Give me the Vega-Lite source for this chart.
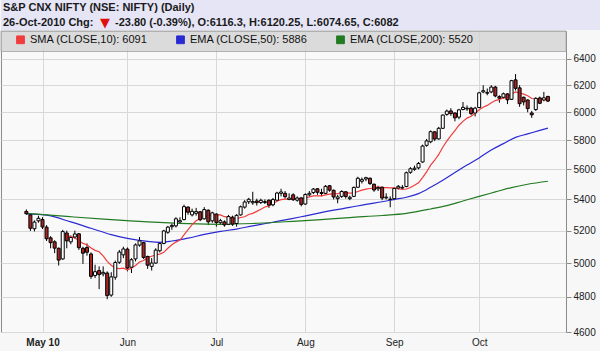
{
"$schema": "https://vega.github.io/schema/vega-lite/v6.json",
"background": "#f7f7f7",
"padding": 0,
"spacing": 0,
"config": {"font": "Liberation Sans", "axis": {"labelFont": "Liberation Sans", "labelFontSize": 10, "labelColor": "#222222", "gridColor": "#d8d8d8", "domainColor": "#8c8c8c", "tickColor": "#8c8c8c"}},
"datasets": {
"candles": [
{"i":0,"o":5322,"h":5335,"l":5300,"c":5308},{"i":1,"o":5300,"h":5310,"l":5198,"c":5215},{"i":2,"o":5212,"h":5265,"l":5195,"c":5254},{"i":3,"o":5262,"h":5295,"l":5250,"c":5278},
{"i":4,"o":5270,"h":5285,"l":5210,"c":5223},{"i":5,"o":5222,"h":5235,"l":5135,"c":5149},{"i":6,"o":5155,"h":5165,"l":5090,"c":5125},{"i":7,"o":5130,"h":5140,"l":5060,"c":5091},{"i":8,"o":5090,"h":5095,"l":4985,"c":5018},{"i":9,"o":5025,"h":5205,"l":5020,"c":5194},{"i":10,"o":5185,"h":5200,"l":5090,"c":5136},{"i":11,"o":5130,"h":5170,"l":5115,"c":5157},{"i":12,"o":5160,"h":5200,"l":5150,"c":5179},{"i":13,"o":5180,"h":5185,"l":5080,"c":5094},{"i":14,"o":5090,"h":5100,"l":4995,"c":5060},{"i":15,"o":5095,"h":5120,"l":5045,"c":5066},{"i":16,"o":5055,"h":5065,"l":4905,"c":4920},{"i":17,"o":4925,"h":4990,"l":4910,"c":4948},{"i":18,"o":4955,"h":4980,"l":4845,"c":4931},{"i":19,"o":4935,"h":4980,"l":4920,"c":4944},{"i":20,"o":4940,"h":4950,"l":4786,"c":4807},{"i":21,"o":4810,"h":4945,"l":4800,"c":4917},{"i":22,"o":4915,"h":5015,"l":4900,"c":5003},{"i":23,"o":5005,"h":5080,"l":4995,"c":5067},{"i":24,"o":5050,"h":5100,"l":5030,"c":5086},
{"i":25,"o":5085,"h":5095,"l":4950,"c":4970},{"i":26,"o":4975,"h":5030,"l":4940,"c":5020},{"i":27,"o":5025,"h":5120,"l":5010,"c":5111},{"i":28,"o":5110,"h":5160,"l":5100,"c":5136},{"i":29,"o":5125,"h":5130,"l":5025,"c":5034},{"i":30,"o":5040,"h":5045,"l":4965,"c":4987},{"i":31,"o":4980,"h":5030,"l":4955,"c":5000},{"i":32,"o":5000,"h":5090,"l":4995,"c":5079},{"i":33,"o":5075,"h":5130,"l":5065,"c":5119},{"i":34,"o":5120,"h":5205,"l":5115,"c":5198},{"i":35,"o":5190,"h":5230,"l":5180,"c":5222},{"i":36,"o":5225,"h":5245,"l":5205,"c":5233},{"i":37,"o":5230,"h":5285,"l":5220,"c":5275},{"i":38,"o":5255,"h":5285,"l":5245,"c":5263},{"i":39,"o":5270,"h":5366,"l":5265,"c":5353},{"i":40,"o":5350,"h":5355,"l":5300,"c":5317},{"i":41,"o":5300,"h":5340,"l":5290,"c":5323},{"i":42,"o":5310,"h":5345,"l":5295,"c":5321},{"i":43,"o":5320,"h":5325,"l":5260,"c":5269},{"i":44,"o":5275,"h":5350,"l":5270,"c":5334},{"i":45,"o":5330,"h":5335,"l":5235,"c":5256},{"i":46,"o":5262,"h":5320,"l":5250,"c":5313},
{"i":47,"o":5305,"h":5310,"l":5225,"c":5251},{"i":48,"o":5250,"h":5275,"l":5235,"c":5263},{"i":49,"o":5255,"h":5265,"l":5225,"c":5236},{"i":50,"o":5240,"h":5300,"l":5235,"c":5289},{"i":51,"o":5285,"h":5295,"l":5230,"c":5241},{"i":52,"o":5245,"h":5305,"l":5225,"c":5297},{"i":53,"o":5300,"h":5360,"l":5295,"c":5352},{"i":54,"o":5350,"h":5395,"l":5340,"c":5383},{"i":55,"o":5385,"h":5410,"l":5370,"c":5401},{"i":56,"o":5378,"h":5450,"l":5365,"c":5386},{"i":57,"o":5390,"h":5405,"l":5360,"c":5379},{"i":58,"o":5380,"h":5405,"l":5370,"c":5394},{"i":59,"o":5380,"h":5400,"l":5370,"c":5386},{"i":60,"o":5395,"h":5400,"l":5345,"c":5363},{"i":61,"o":5365,"h":5410,"l":5355,"c":5399},{"i":62,"o":5395,"h":5450,"l":5390,"c":5442},{"i":63,"o":5440,"h":5470,"l":5420,"c":5449},{"i":64,"o":5440,"h":5455,"l":5405,"c":5418},{"i":65,"o":5400,"h":5440,"l":5395,"c":5409},{"i":66,"o":5430,"h":5440,"l":5390,"c":5398},{"i":67,"o":5395,"h":5420,"l":5385,"c":5409},{"i":68,"o":5410,"h":5415,"l":5355,"c":5368},
{"i":69,"o":5370,"h":5440,"l":5365,"c":5432},{"i":70,"o":5430,"h":5455,"l":5420,"c":5440},{"i":71,"o":5445,"h":5475,"l":5435,"c":5468},{"i":72,"o":5470,"h":5475,"l":5430,"c":5447},{"i":73,"o":5445,"h":5470,"l":5420,"c":5439},{"i":74,"o":5440,"h":5495,"l":5435,"c":5486},{"i":75,"o":5490,"h":5495,"l":5450,"c":5461},{"i":76,"o":5460,"h":5465,"l":5400,"c":5416},{"i":77,"o":5405,"h":5430,"l":5375,"c":5416},{"i":78,"o":5420,"h":5460,"l":5410,"c":5452},{"i":79,"o":5450,"h":5455,"l":5405,"c":5419},{"i":80,"o":5405,"h":5425,"l":5395,"c":5414},{"i":81,"o":5420,"h":5485,"l":5415,"c":5479},{"i":82,"o":5480,"h":5550,"l":5475,"c":5540},{"i":83,"o":5520,"h":5545,"l":5505,"c":5531},{"i":84,"o":5535,"h":5550,"l":5520,"c":5544},{"i":85,"o":5540,"h":5545,"l":5495,"c":5505},{"i":86,"o":5500,"h":5505,"l":5450,"c":5462},{"i":87,"o":5470,"h":5490,"l":5455,"c":5478},{"i":88,"o":5480,"h":5485,"l":5395,"c":5409},{"i":89,"o":5410,"h":5440,"l":5400,"c":5415},{"i":90,"o":5400,"h":5420,"l":5349,"c":5402},
{"i":91,"o":5405,"h":5480,"l":5395,"c":5472},{"i":92,"o":5475,"h":5495,"l":5465,"c":5486},{"i":93,"o":5475,"h":5495,"l":5470,"c":5479},{"i":94,"o":5485,"h":5585,"l":5480,"c":5577},{"i":95,"o":5580,"h":5615,"l":5570,"c":5604},{"i":96,"o":5600,"h":5625,"l":5590,"c":5608},{"i":97,"o":5610,"h":5650,"l":5600,"c":5640},{"i":98,"o":5650,"h":5770,"l":5645,"c":5760},{"i":99,"o":5765,"h":5810,"l":5755,"c":5796},{"i":100,"o":5790,"h":5870,"l":5780,"c":5861},{"i":101,"o":5860,"h":5865,"l":5795,"c":5809},{"i":102,"o":5810,"h":5895,"l":5805,"c":5885},{"i":103,"o":5885,"h":5985,"l":5880,"c":5980},{"i":104,"o":5985,"h":6020,"l":5975,"c":6009},{"i":105,"o":6010,"h":6030,"l":5975,"c":5991},{"i":106,"o":5995,"h":6000,"l":5935,"c":5960},{"i":107,"o":5965,"h":6025,"l":5950,"c":6018},{"i":108,"o":6020,"h":6075,"l":6015,"c":6036},{"i":109,"o":6025,"h":6050,"l":6010,"c":6030},{"i":110,"o":6030,"h":6040,"l":5980,"c":5991},{"i":111,"o":5995,"h":6040,"l":5970,"c":6030},
{"i":112,"o":6035,"h":6150,"l":6030,"c":6143},{"i":113,"o":6150,"h":6200,"l":6140,"c":6159},{"i":114,"o":6140,"h":6175,"l":6125,"c":6146},{"i":115,"o":6150,"h":6200,"l":6140,"c":6186},{"i":116,"o":6186,"h":6195,"l":6110,"c":6120},{"i":117,"o":6115,"h":6125,"l":6070,"c":6103},{"i":118,"o":6110,"h":6145,"l":6100,"c":6136},{"i":119,"o":6135,"h":6140,"l":6060,"c":6091},{"i":120,"o":6095,"h":6240,"l":6090,"c":6234},{"i":121,"o":6240,"h":6284,"l":6160,"c":6177},{"i":122,"o":6180,"h":6200,"l":6040,"c":6063},{"i":123,"o":6110,"h":6115,"l":6050,"c":6076},{"i":124,"o":6090,"h":6095,"l":6000,"c":6027},{"i":125,"o":5995,"h":6010,"l":5960,"c":5982},{"i":126,"o":6020,"h":6110,"l":6010,"c":6102},{"i":127,"o":6105,"h":6115,"l":6060,"c":6066},{"i":128,"o":6090,"h":6150,"l":6080,"c":6106},{"i":129,"o":6116.3,"h":6120.25,"l":6074.65,"c":6082}
],
"ema": [
{"i":0,"s":"EMA (CLOSE,50): 5886","v":5306},{"i":5,"s":"EMA (CLOSE,50): 5886","v":5298},{"i":11,"s":"EMA (CLOSE,50): 5886","v":5255},{"i":16,"s":"EMA (CLOSE,50): 5886","v":5215},{"i":21,"s":"EMA (CLOSE,50): 5886","v":5175},{"i":25,"s":"EMA (CLOSE,50): 5886","v":5152},{"i":30,"s":"EMA (CLOSE,50): 5886","v":5133},{"i":33,"s":"EMA (CLOSE,50): 5886","v":5127},{"i":36,"s":"EMA (CLOSE,50): 5886","v":5135},{"i":40,"s":"EMA (CLOSE,50): 5886","v":5153},{"i":44,"s":"EMA (CLOSE,50): 5886","v":5176},{"i":48,"s":"EMA (CLOSE,50): 5886","v":5195},{"i":52,"s":"EMA (CLOSE,50): 5886","v":5210},{"i":56,"s":"EMA (CLOSE,50): 5886","v":5230},{"i":60,"s":"EMA (CLOSE,50): 5886","v":5248},{"i":64,"s":"EMA (CLOSE,50): 5886","v":5268},{"i":68,"s":"EMA (CLOSE,50): 5886","v":5288},{"i":72,"s":"EMA (CLOSE,50): 5886","v":5310},{"i":76,"s":"EMA (CLOSE,50): 5886","v":5330},{"i":80,"s":"EMA (CLOSE,50): 5886","v":5348},{"i":84,"s":"EMA (CLOSE,50): 5886","v":5368},{"i":88,"s":"EMA (CLOSE,50): 5886","v":5385},{"i":91,"s":"EMA (CLOSE,50): 5886","v":5400},{"i":94,"s":"EMA (CLOSE,50): 5886","v":5414},{"i":97,"s":"EMA (CLOSE,50): 5886","v":5438},{"i":100,"s":"EMA (CLOSE,50): 5886","v":5480},{"i":103,"s":"EMA (CLOSE,50): 5886","v":5527},{"i":106,"s":"EMA (CLOSE,50): 5886","v":5579},{"i":109,"s":"EMA (CLOSE,50): 5886","v":5629},{"i":112,"s":"EMA (CLOSE,50): 5886","v":5678},{"i":115,"s":"EMA (CLOSE,50): 5886","v":5733},{"i":118,"s":"EMA (CLOSE,50): 5886","v":5777},{"i":121,"s":"EMA (CLOSE,50): 5886","v":5821},{"i":124,"s":"EMA (CLOSE,50): 5886","v":5845},{"i":127,"s":"EMA (CLOSE,50): 5886","v":5870},{"i":129,"s":"EMA (CLOSE,50): 5886","v":5886},
{"i":0,"s":"EMA (CLOSE,200): 5520","v":5310},{"i":10,"s":"EMA (CLOSE,200): 5520","v":5290},{"i":20,"s":"EMA (CLOSE,200): 5520","v":5271},{"i":30,"s":"EMA (CLOSE,200): 5520","v":5255},{"i":40,"s":"EMA (CLOSE,200): 5520","v":5244},{"i":48,"s":"EMA (CLOSE,200): 5520","v":5240},{"i":56,"s":"EMA (CLOSE,200): 5520","v":5245},{"i":64,"s":"EMA (CLOSE,200): 5520","v":5256},{"i":72,"s":"EMA (CLOSE,200): 5520","v":5268},{"i":80,"s":"EMA (CLOSE,200): 5520","v":5283},{"i":88,"s":"EMA (CLOSE,200): 5520","v":5296},{"i":94,"s":"EMA (CLOSE,200): 5520","v":5310},{"i":100,"s":"EMA (CLOSE,200): 5520","v":5338},{"i":104,"s":"EMA (CLOSE,200): 5520","v":5360},{"i":108,"s":"EMA (CLOSE,200): 5520","v":5390},{"i":112,"s":"EMA (CLOSE,200): 5520","v":5420},{"i":116,"s":"EMA (CLOSE,200): 5520","v":5449},{"i":120,"s":"EMA (CLOSE,200): 5520","v":5478},{"i":124,"s":"EMA (CLOSE,200): 5520","v":5500},{"i":129,"s":"EMA (CLOSE,200): 5520","v":5520}
]
},
"vconcat": [
{
"width": 600, "height": 30,
"view": {"fill": "#e5e5f6", "stroke": null},
"layer": [
{"data": {"values": [{"line": "1", "text": "S&P CNX NIFTY (NSE: NIFTY) (Daily)"}, {"line": "2", "text": "26-Oct-2010 Chg:"}]},
 "mark": {"type": "text", "align": "left", "baseline": "middle", "dx": 2, "font": "Liberation Sans", "fontSize": 11, "fontWeight": "bold", "color": "#1a1a1a"},
 "encoding": {"x": {"datum": 0, "type": "quantitative", "scale": {"domain": [0, 600]}, "axis": null}, "y": {"field": "line", "type": "ordinal", "scale": {"domain": ["1", "2"]}, "axis": null}, "text": {"field": "text"}}},
{"data": {"values": [{"line": "2", "text": "▼"}]},
 "mark": {"type": "text", "align": "left", "baseline": "middle", "dx": 99, "font": "DejaVu Sans", "fontSize": 13, "color": "#e01010"},
 "encoding": {"x": {"datum": 0, "type": "quantitative", "scale": {"domain": [0, 600]}, "axis": null}, "y": {"field": "line", "type": "ordinal", "scale": {"domain": ["1", "2"]}, "axis": null}, "text": {"field": "text"}}},
{"data": {"values": [{"line": "2", "text": "-23.80 (-0.39%), O:6116.3, H:6120.25, L:6074.65, C:6082"}]},
 "mark": {"type": "text", "align": "left", "baseline": "middle", "dx": 114, "font": "Liberation Sans", "fontSize": 11, "fontWeight": "bold", "color": "#1a1a1a"},
 "encoding": {"x": {"datum": 0, "type": "quantitative", "scale": {"domain": [0, 600]}, "axis": null}, "y": {"field": "line", "type": "ordinal", "scale": {"domain": ["1", "2"]}, "axis": null}, "text": {"field": "text"}}}
]
},
{
"width": 565, "height": 301,
"view": {"fill": "#f9f9f9", "stroke": "#8c8c8c"},
"layer": [
{"data": {"values": [{}]},
 "mark": {"type": "rect", "color": "#d4d4d4", "opacity": 0.8, "stroke": "#a0a0a0", "strokeWidth": 1},
 "encoding": {"y": {"datum": 6620, "type": "quantitative", "scale": {"type": "log", "domain": [4600, 6620], "nice": false, "zero": false}, "title": null}, "y2": {"datum": 6458}}},
{"data": {"name": "candles"},
 "mark": {"type": "rule", "color": "#000000", "strokeWidth": 1},
 "encoding": {
  "x": {"field": "i", "type": "quantitative", "title": null, "scale": {"domain": [-5.03, 132.24], "nice": false, "zero": false},
   "axis": {"values": [4, 25, 47, 69, 91, 112], "labelExpr": "datum.value == 4 ? 'May 10' : datum.value == 25 ? 'Jun' : datum.value == 47 ? 'Jul' : datum.value == 69 ? 'Aug' : datum.value == 91 ? 'Sep' : 'Oct'", "ticks": false, "domain": false, "grid": true, "labelPadding": 5, "labelFlush": false, "labelOverlap": false, "labelFontWeight": {"condition": {"test": "datum.value == 4", "value": "bold"}, "value": "normal"}, "minExtent": 20, "maxExtent": 20, "title": null}},
  "y": {"field": "l", "type": "quantitative", "title": null, "scale": {"type": "log", "domain": [4600, 6620], "nice": false, "zero": false},
   "axis": {"orient": "right", "values": [4600, 4800, 5000, 5200, 5400, 5600, 5800, 6000, 6200, 6400], "format": "d", "tickSize": 5, "labelPadding": 2, "domain": false, "grid": true, "minExtent": 35, "maxExtent": 35, "title": null}},
  "y2": {"field": "h"}}},
{"data": {"name": "ema"},
 "mark": {"type": "line", "strokeWidth": 1.2, "interpolate": "monotone"},
 "encoding": {
  "x": {"field": "i", "type": "quantitative", "title": null, "scale": {"domain": [-5.03, 132.24], "nice": false, "zero": false}},
  "y": {"field": "v", "type": "quantitative", "title": null, "scale": {"type": "log", "domain": [4600, 6620], "nice": false, "zero": false}},
  "color": {"field": "s", "type": "nominal", "scale": {"domain": ["SMA (CLOSE,10): 6091", "EMA (CLOSE,50): 5886", "EMA (CLOSE,200): 5520"], "range": ["#f03c3c", "#2a2ad2", "#227a22"]},
   "legend": {"title": null, "orient": "none", "legendX": 14, "legendY": 34, "direction": "horizontal", "columns": 3, "gridAlign": "each", "columnPadding": 26, "symbolType": "square", "symbolSize": 60, "labelOffset": 4, "labelFont": "Liberation Sans", "labelFontSize": 11, "labelColor": "#111111", "labelLimit": 300, "padding": 0,
    "encode": {"symbols": {"update": {"fill": {"scale": "color", "field": "value"}, "stroke": {"value": "#333333"}, "strokeWidth": {"value": 1}, "opacity": {"value": 1}}}}}}}},
{"data": {"name": "candles"},
 "transform": [{"window": [{"op": "mean", "field": "c", "as": "sma"}, {"op": "count", "as": "n"}], "frame": [-9, 0], "sort": [{"field": "i"}]}, {"filter": "datum.n >= 10"}],
 "mark": {"type": "line", "strokeWidth": 1.2},
 "encoding": {
  "x": {"field": "i", "type": "quantitative", "title": null, "scale": {"domain": [-5.03, 132.24], "nice": false, "zero": false}},
  "y": {"field": "sma", "type": "quantitative", "title": null, "scale": {"type": "log", "domain": [4600, 6620], "nice": false, "zero": false}},
  "color": {"datum": "SMA (CLOSE,10): 6091", "type": "nominal"}}},
{"data": {"name": "candles"},
 "mark": {"type": "bar", "size": 3, "stroke": "#000000", "strokeWidth": 1},
 "encoding": {
  "x": {"field": "i", "type": "quantitative", "title": null, "scale": {"domain": [-5.03, 132.24], "nice": false, "zero": false}},
  "y": {"field": "o", "type": "quantitative", "title": null, "scale": {"type": "log", "domain": [4600, 6620], "nice": false, "zero": false}},
  "y2": {"field": "c"},
  "fill": {"condition": {"test": "datum.c < datum.o", "value": "#a62626"}, "value": "#ffffff"}}}
]
}
]
}
